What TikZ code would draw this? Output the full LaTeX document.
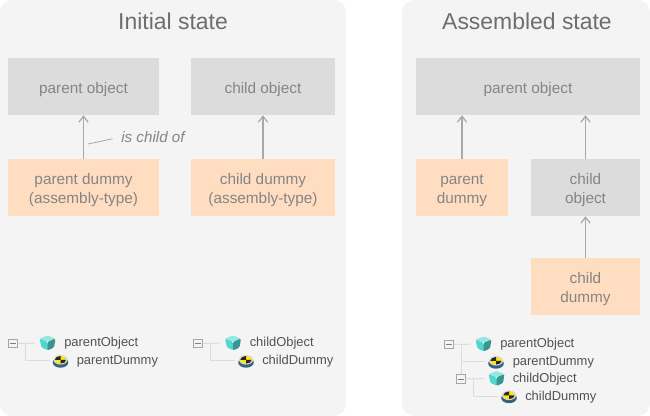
\documentclass[tikz,border=0pt]{standalone}
\usepackage{fontspec}
\setmainfont{Liberation Sans}
\usetikzlibrary{arrows.meta, positioning, calc}

\definecolor{panelgray}{HTML}{F4F4F4}
\definecolor{objgray}{HTML}{DCDCDC}
\definecolor{dummyorange}{HTML}{FFDDC1}
\definecolor{labelgray}{HTML}{858585}
\definecolor{titlegray}{HTML}{6E6E6E}
\definecolor{linkgray}{HTML}{A8A8A8}
\definecolor{treegray}{HTML}{DCDCDC}
\definecolor{cubeteal}{HTML}{4FD6CE}
\definecolor{dummyblue}{HTML}{4A8FB0}

\tikzset{
  panel/.style={fill=panelgray, draw=none, rounded corners=9pt},
  paneltitle/.style={text=titlegray, font=\fontsize{17.2}{20}\selectfont, inner sep=0pt},
  statebox/.style={draw=none, text=labelgray, align=center, inner sep=0pt,
    font=\fontsize{11.5}{14.2}\selectfont, execute at begin node={\rule{0pt}{12.2pt}}},
  tworows/.style={execute at begin node={\rule{0pt}{26.4pt}}},
  objbox/.style={statebox, fill=objgray},
  dummybox/.style={statebox, fill=dummyorange},
  link/.style={draw=linkgray, line width=0.9pt, -{Straight Barb[length=4.5pt,width=7pt]}},
  leader/.style={draw=linkgray, line width=0.6pt, shorten >=6.5pt},
  childof/.style={text=labelgray, inner sep=0pt, font=\itshape\fontsize{11.4}{13}\selectfont},
  treetext/.style={text=black!68, anchor=west, inner sep=0pt, font=\fontsize{9.7}{12}\selectfont},
  treeline/.style={draw=treegray, line width=0.75pt},
  treebox/.style={draw=black!35, fill=panelgray, minimum size=6.2pt, inner sep=0pt, line width=0.6pt,
    path picture={\draw[black!50, line width=0.6pt]
      ([xshift=-2pt]path picture bounding box.center) -- ([xshift=2pt]path picture bounding box.center);}},
  cubeicon/.style={minimum width=12.4pt, minimum height=11.4pt, inner sep=0pt,
    path picture={
      \begin{scope}[shift={(path picture bounding box.center)}, x=0.75pt, y=-0.75pt]
        \fill[cubeteal!60!white, rounded corners=1pt] (-8,-4.5) -- (0,-7.5) -- (8,-4.5) -- (0,-1) -- cycle;
        \fill[cubeteal, rounded corners=1pt] (-8,-4.5) -- (0,-1) -- (1,7.5) -- (-6,4.5) -- cycle;
        \fill[cubeteal!70!black, rounded corners=1pt] (8,-4.5) -- (0,-1) -- (0,7.5) -- (6.5,4.5) -- cycle;
      \end{scope}}},
  dummyicon/.style={minimum width=12pt, minimum height=10.5pt, inner sep=0pt,
    path picture={
      \begin{scope}[shift={(path picture bounding box.center)}, x=0.75pt, y=-0.75pt]
        \fill[dummyblue!70!black] (0,1.5) ellipse (7.8 and 5.2);
        \fill[black!15] (0,-1.2) ellipse (7 and 4.8);
        \fill[yellow!90!orange] (0,-1.2) ellipse (5.6 and 3.8);
        \fill[black!85] (0,-1.2) -- (-5.6,-1.2) arc[start angle=180, end angle=270, x radius=5.6, y radius=3.8] -- cycle;
        \fill[black!85] (0,-1.2) -- (5.6,-1.2) arc[start angle=0, end angle=90, x radius=5.6, y radius=3.8] -- cycle;
      \end{scope}}}
}

\begin{document}
\begin{tikzpicture}[x=0.75pt, y=-0.75pt]
  \useasboundingbox (0,0) rectangle (650,416);

  % panels
  \path[panel] (0,0) rectangle (346,416);
  \path[panel] (402,0) rectangle (650,416);
  \node[paneltitle] (title1) at (173,21) {Initial state};
  \node[paneltitle] (title2) at (527,21) {Assembled state};

  % initial state
  \node[objbox, minimum width=113.25pt, minimum height=42.75pt] (parentobj1) at (83.5,86.5) {parent object};
  \node[objbox, minimum width=108pt, minimum height=42.75pt] (childobj1) at (263,86.5) {child object};
  \node[dummybox, tworows, minimum width=113.25pt, minimum height=42.75pt] (parentdum1) at (83.5,187.5) {parent dummy\\(assembly-type)};
  \node[dummybox, tworows, minimum width=108pt, minimum height=42.75pt] (childdum1) at (263,187.5) {child dummy\\(assembly-type)};
  \draw[link] (parentdum1) -- (parentobj1);
  \draw[link] (childdum1) -- (childobj1);
  \node[childof, anchor=west] (childlabel) at (121,137) {is child of};
  \coordinate (leadstart) at (88,144);
  \draw[leader] (leadstart) -- (childlabel.west);

  % assembled state
  \node[objbox, minimum width=168pt, minimum height=42.75pt] (parentobj2) at (528,86.5) {parent object};
  \node[dummybox, tworows, minimum width=69pt, minimum height=42.75pt] (parentdum2) at (462,187.5) {parent\\dummy};
  \node[objbox, tworows, minimum width=81.75pt, minimum height=42.75pt] (childobj2) at (585.5,187.5) {child\\object};
  \node[dummybox, tworows, minimum width=81.75pt, minimum height=42.75pt] (childdum2) at (585.5,286.5) {child\\dummy};
  \draw[link] (parentdum2.north) -- (parentdum2.north |- parentobj2.south);
  \draw[link] (childobj2.north) -- (childobj2.north |- parentobj2.south);
  \draw[link] (childdum2) -- (childobj2);

  % tree, left
  \node[treebox] (box1) at (13,343.5) {};
  \node[cubeicon] (cube1) at (47.5,343) {};
  \node[dummyicon] (dum1) at (60.5,361) {};
  \node[treetext] at (64,343.5) {parentObject};
  \node[treetext] at (76.5,361.5) {parentDummy};
  \coordinate (knee1) at (25,343.5);
  \draw[treeline, shorten >=3pt] (box1) -- (cube1);
  \draw[treeline, shorten >=2pt] (knee1) |- (dum1);

  % tree, middle
  \node[treebox] (box2) at (198,343.5) {};
  \node[cubeicon] (cube2) at (233,343) {};
  \node[dummyicon] (dum2) at (246,361) {};
  \node[treetext] at (249.5,343.5) {childObject};
  \node[treetext] at (262,361.5) {childDummy};
  \coordinate (knee2) at (210,343.5);
  \draw[treeline, shorten >=3pt] (box2) -- (cube2);
  \draw[treeline, shorten >=2pt] (knee2) |- (dum2);

  % tree, right
  \node[treebox] (box3) at (449,344.5) {};
  \node[cubeicon] (cube3) at (483.5,344) {};
  \node[dummyicon] (dum3) at (496,362) {};
  \node[treebox] (box4) at (461,379) {};
  \node[cubeicon] (cube4) at (496.5,378.5) {};
  \node[dummyicon] (dum4) at (509,396.5) {};
  \node[treetext] at (500,344.5) {parentObject};
  \node[treetext] at (512.5,362.5) {parentDummy};
  \node[treetext] at (512.5,379.5) {childObject};
  \node[treetext] at (525,397) {childDummy};
  \coordinate (knee3) at (461,344.5);
  \coordinate (knee4) at (473,379);
  \draw[treeline, shorten >=3pt] (box3) -- (cube3);
  \draw[treeline, shorten >=2pt] (knee3) |- (dum3);
  \draw[treeline] (knee3) -- (box4);
  \draw[treeline, shorten >=3pt] (box4) -- (cube4);
  \draw[treeline, shorten >=2pt] (knee4) |- (dum4);
\end{tikzpicture}
\end{document}
